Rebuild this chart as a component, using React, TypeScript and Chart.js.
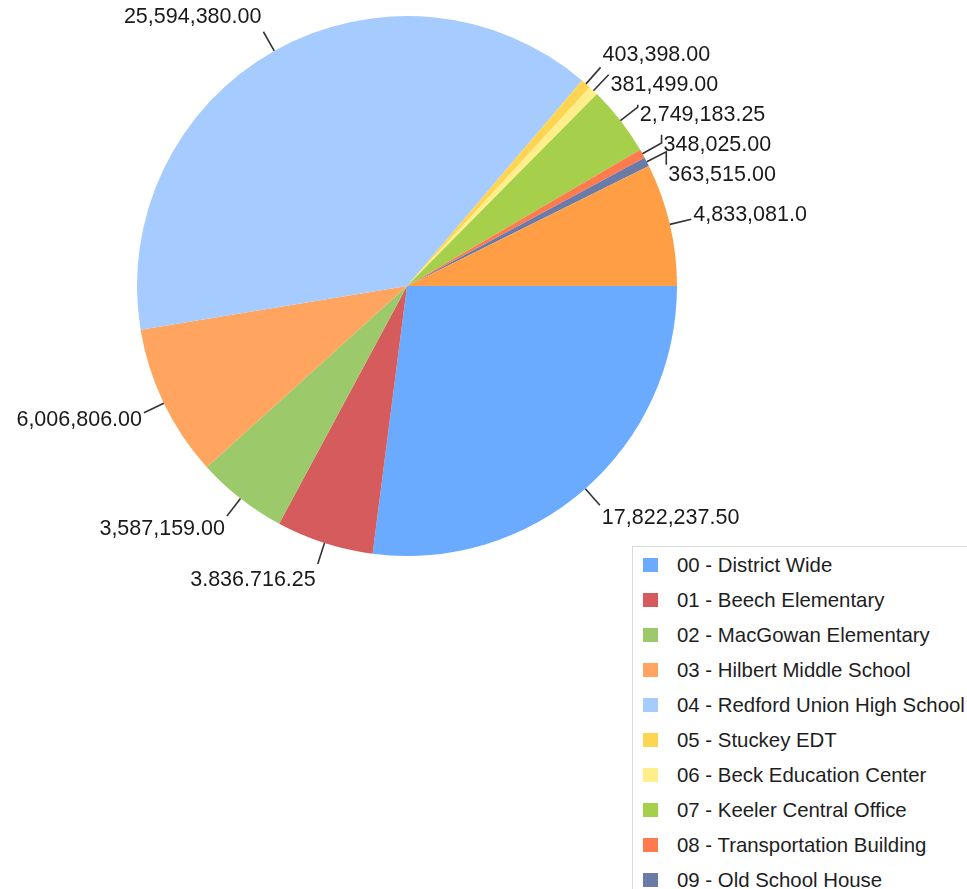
import React, { useEffect, useRef } from "react";
import { Chart, registerables } from "chart.js";

Chart.register(...registerables);

const categories: string[] = [
  "00 - District Wide",
  "01 - Beech Elementary",
  "02 - MacGowan Elementary",
  "03 - Hilbert Middle School",
  "04 - Redford Union High School",
  "05 - Stuckey EDT",
  "06 - Beck Education Center",
  "07 - Keeler Central Office",
  "08 - Transportation Building",
  "09 - Old School House",
  "10 - Other",
];

const amounts: number[] = [
  17822237.5, 3836716.25, 3587159.0, 6006806.0, 25594380.0, 403398.0, 381499.0,
  2749183.25, 348025.0, 363515.0, 4833081.0,
];

const sliceColors: string[] = [
  "#6AAAFF",
  "#D55B5D",
  "#9CCA6A",
  "#FFA560",
  "#A5CBFF",
  "#FFD452",
  "#FFEE8A",
  "#A6D04B",
  "#FF7B4D",
  "#6B7BA8",
  "#FF9E45",
];

const fmt = (v: number) =>
  v.toLocaleString("en-US", { minimumFractionDigits: 2, maximumFractionDigits: 2 });

const outLabels = {
  id: "outLabels",
  afterDatasetsDraw(chart: any) {
    const ctx = chart.ctx as CanvasRenderingContext2D;
    const meta = chart.getDatasetMeta(0);
    const data = chart.data.datasets[0].data as number[];
    const items = meta.data.map((arc: any, i: number) => {
      const p = arc.getProps(["x", "y", "startAngle", "endAngle", "outerRadius"], true);
      const mid = (p.startAngle + p.endAngle) / 2;
      const c = Math.cos(mid);
      const s = Math.sin(mid);
      const r0 = p.outerRadius;
      const r1 = p.outerRadius + 22;
      const ey = p.y + s * r1;
      return {
        c,
        s,
        sx: p.x + c * r0,
        sy: p.y + s * r0,
        ex: p.x + c * r1,
        ey,
        right: c >= 0,
        natural: ey + 17 * s,
        ty: ey + 17 * s,
        text: fmt(data[i]),
      };
    });
    [true, false].forEach((side) => {
      const g = items.filter((it: any) => it.right === side).sort((a: any, b: any) => a.ty - b.ty);
      for (let k = 1; k < g.length; k++) {
        if (g[k].ty < g[k - 1].ty + 30) g[k].ty = g[k - 1].ty + 30;
      }
    });
    ctx.save();
    ctx.strokeStyle = "#333333";
    ctx.lineWidth = 1.6;
    ctx.font = "21.5px 'Liberation Sans', Arial, sans-serif";
    ctx.fillStyle = "#1a1a1a";
    ctx.textBaseline = "middle";
    items.forEach((it: any) => {
      ctx.beginPath();
      ctx.moveTo(it.sx, it.sy);
      ctx.lineTo(it.ex, it.ey);
      if (Math.abs(it.ty - it.natural) > 3) {
        ctx.lineTo(it.ex, it.ty - 10);
      }
      ctx.stroke();
      ctx.textAlign = it.right ? "left" : "right";
      ctx.fillText(it.text, it.ex + (it.right ? 2 : -2), it.ty);
    });
    ctx.restore();
  },
};

export default function App() {
  const canvasRef = useRef<HTMLCanvasElement | null>(null);

  useEffect(() => {
    if (!canvasRef.current) return;
    const chart = new Chart(canvasRef.current, {
      type: "pie",
      data: {
        labels: categories,
        datasets: [
          {
            data: amounts,
            backgroundColor: sliceColors,
            borderWidth: 0,
          },
        ],
      },
      options: {
        responsive: false,
        animation: false,
        rotation: 90,
        devicePixelRatio: 1,
        layout: { padding: { left: 137, right: 129, top: 16, bottom: 30 } },
        plugins: {
          legend: { display: false },
          tooltip: { enabled: false },
        },
        events: [],
      },
      plugins: [outLabels],
    });
    return () => chart.destroy();
  }, []);

  return (
    <div
      style={{
        position: "fixed",
        left: 0,
        top: 0,
        width: 967,
        height: 889,
        overflow: "hidden",
        background: "#fff",
      }}
    >
      <canvas
        ref={canvasRef}
        width={806}
        height={586}
        style={{ position: "absolute", left: 0, top: 0, width: 806, height: 586 }}
      />
      <div
        style={{
          position: "absolute",
          left: 632,
          top: 546,
          width: 420,
          height: 420,
          border: "1px solid #d9d9d9",
          background: "#fff",
          boxSizing: "border-box",
          fontFamily: "'Liberation Sans', Arial, sans-serif",
          fontSize: 20.4,
          color: "#1e1e1e",
        }}
      >
        {categories.map((name, i) => (
          <div
            key={name}
            style={{
              position: "absolute",
              left: 10,
              top: 11 + i * 35 - 10,
              height: 34,
              display: "flex",
              alignItems: "center",
              whiteSpace: "nowrap",
            }}
          >
            <span
              style={{
                display: "inline-block",
                width: 15,
                height: 14,
                background: sliceColors[i],
                marginRight: 19,
              }}
            />
            <span>{name}</span>
          </div>
        ))}
      </div>
    </div>
  );
}
